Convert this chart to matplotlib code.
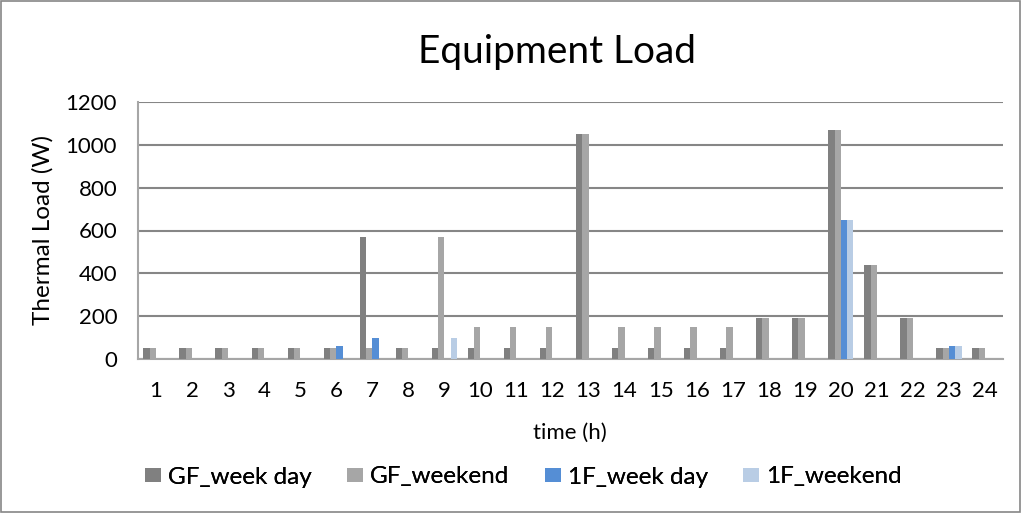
import numpy as np
import matplotlib.pyplot as plt
from matplotlib.patches import Rectangle

hours = list(range(1, 25))
gf_week_day = [50, 50, 50, 50, 50, 50, 570, 50, 50, 50, 50, 50,
               1050, 50, 50, 50, 50, 190, 190, 1070, 440, 190, 50, 50]
gf_weekend = [50, 50, 50, 50, 50, 50, 50, 50, 570, 150, 150, 150,
              1050, 150, 150, 150, 150, 190, 190, 1070, 440, 190, 50, 50]
f1_week_day = [0, 0, 0, 0, 0, 60, 100, 0, 0, 0, 0, 0,
               0, 0, 0, 0, 0, 0, 0, 650, 0, 0, 60, 0]
f1_weekend = [0, 0, 0, 0, 0, 0, 0, 0, 100, 0, 0, 0,
              0, 0, 0, 0, 0, 0, 0, 650, 0, 0, 60, 0]
series_names = ["GF_week day", "GF_weekend", "1F_week day", "1F_weekend"]
colors = ["#808080", "#A6A6A6", "#558ED5", "#B9CDE5"]

plt.rcParams['font.family'] = ['Lato', 'DejaVu Sans']

fig = plt.figure(figsize=(10.21, 5.13), dpi=100)
fig.patches.append(Rectangle((0.001, 0.001), 0.998, 0.997, transform=fig.transFigure,
                             fill=False, edgecolor="#868686", linewidth=1.2))
ax = fig.add_axes([138 / 1021, 1 - 359 / 513, 865 / 1021, 257 / 513])

x = np.arange(len(hours))
w = 0.175
data = [gf_week_day, gf_weekend, f1_week_day, f1_weekend]
handles = []
for i, (vals, c, name) in enumerate(zip(data, colors, series_names)):
    b = ax.bar(x + (i - 1.5) * w, vals, width=w, color=c, label=name, zorder=3)
    handles.append(b)

ax.set_xlim(-0.5, len(hours) - 0.5)
ax.set_ylim(0, 1200)
ax.set_yticks(range(0, 1201, 200))
ax.set_xticks(x)
ax.set_xticklabels([str(h) for h in hours])
ax.yaxis.grid(True, color="#868686", linewidth=1.5, zorder=0)
ax.tick_params(length=0, labelsize=16)
ax.tick_params(axis="y", pad=15)
ax.tick_params(axis="x", pad=16)
for s in ["top", "right"]:
    ax.spines[s].set_visible(False)
for s in ["left", "bottom"]:
    ax.spines[s].set_color("#A6A6A6")
    ax.spines[s].set_linewidth(1.5)

fig.text(557 / 1021, 1 - 52 / 513, "Equipment Load", fontsize=28, ha="center", va="center")
fig.text(43 / 1021, 1 - 230 / 513, "Thermal Load (W)", fontsize=17.5, rotation=90,
         ha="center", va="center")
fig.text(570 / 1021, 1 - 433 / 513, "time (h)", fontsize=16, ha="center", va="center")

# one legend per entry so the entries sit at even spacing like the original
legend_x = [145, 347, 545, 743]
for h, name, lx in zip(handles, series_names, legend_x):
    leg = fig.legend(handles=[h], labels=[name], loc="center left",
                     bbox_to_anchor=(lx / 1021, 1 - 477 / 513), frameon=False, fontsize=17.5,
                     handlelength=0.65, handleheight=0.5, handletextpad=0.3,
                     borderaxespad=0, borderpad=0)
    fig.add_artist(leg)

fig.savefig("out.png", dpi=100)
